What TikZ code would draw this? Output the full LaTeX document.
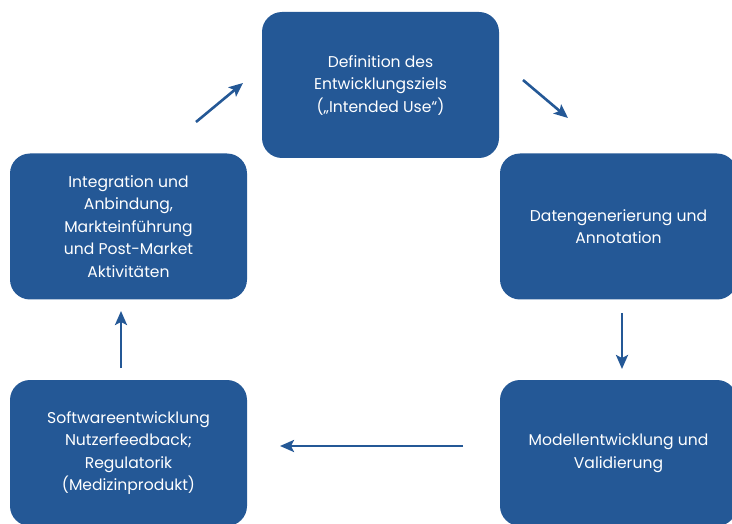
\documentclass[tikz,border=0pt]{standalone}
\usepackage{fontspec}
\setmainfont{Poppins}
\usetikzlibrary{arrows.meta}
\definecolor{boxblue}{RGB}{36,88,150}
\tikzset{
  stagebox/.style={fill=boxblue, draw=none, rounded corners=20pt,
    minimum width=237pt, minimum height=146pt, text=white, align=center,
    font=\fontsize{15.6}{22.5}\selectfont, inner sep=0pt},
  flowarrow/.style={draw=boxblue, line width=2.6pt,
    -{Stealth[length=14pt,width=12pt,inset=3pt]}}
}
\begin{document}
\begin{tikzpicture}[x=1pt,y=-1pt]
\useasboundingbox (0,0) rectangle (732,524);
\node[stagebox] (def) at (380.5,85) {Definition des\\Entwicklungsziels\\(„Intended Use“)};
\node[stagebox] (dat) at (618.5,226.5) {Datengenerierung und\\Annotation};
\node[stagebox] (mod) at (618.5,453) {Modellentwicklung und\\Validierung};
\node[stagebox] (soft) at (128.5,453) {Softwareentwicklung\\Nutzerfeedback;\\Regulatorik\\(Medizinprodukt)};
\node[stagebox] (integ) at (128.5,226.5) {Integration und\\Anbindung,\\Markteinführung\\und Post-Market\\Aktivitäten};
\coordinate (a1s) at (523,80);
\coordinate (a1e) at (568,118);
\coordinate (a2s) at (622,313);
\coordinate (a2e) at (622,369);
\coordinate (a3s) at (463,446);
\coordinate (a3e) at (280,446);
\coordinate (a4s) at (121,368);
\coordinate (a4e) at (121,311);
\coordinate (a5s) at (196,122);
\coordinate (a5e) at (243,83);
\draw[flowarrow] (a1s) -- (a1e);
\draw[flowarrow] (a2s) -- (a2e);
\draw[flowarrow] (a3s) -- (a3e);
\draw[flowarrow] (a4s) -- (a4e);
\draw[flowarrow] (a5s) -- (a5e);
\end{tikzpicture}
\end{document}
